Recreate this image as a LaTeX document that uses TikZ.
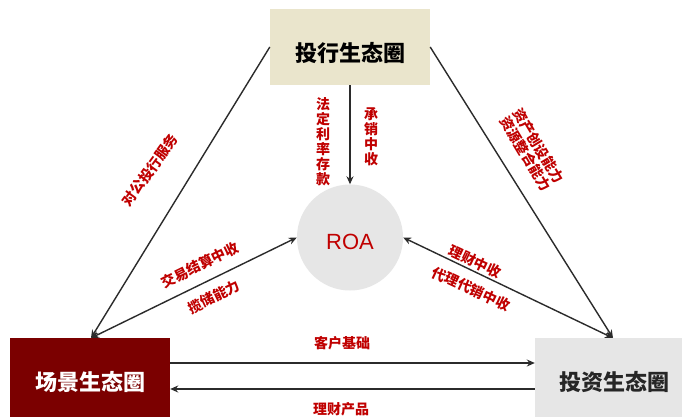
\documentclass[tikz,border=0pt]{standalone}
\usepackage{fontspec}
\setmainfont{Liberation Sans}
\newfontfamily\cjk{Noto Sans CJK SC}
\usetikzlibrary{arrows.meta}
\definecolor{beige}{HTML}{EAE5CC}
\definecolor{darkred}{HTML}{7B0000}
\definecolor{lgray}{HTML}{E6E6E6}
\definecolor{lblred}{HTML}{C00000}
\definecolor{linec}{HTML}{2B2B2B}
\tikzset{
  box/.style={draw=none, inner sep=0pt},
  boxtext/.style={font=\cjk\bfseries\fontsize{22}{24}\selectfont, inner sep=0pt},
  lbl/.style={font=\cjk\bfseries\fontsize{14}{15}\selectfont, text=lblred, inner sep=0pt, align=center},
  conn/.style={draw=linec, line width=1.4pt, -{Stealth[length=8pt,width=7pt]}},
  conn2/.style={draw=linec, line width=1.4pt, {Stealth[length=8pt,width=7pt]}-{Stealth[length=8pt,width=7pt]}},
}
\begin{document}
\begin{tikzpicture}[x=1pt,y=-1pt]
\useasboundingbox[fill=white] (0,0) rectangle (682,416);
% boxes
\node[box, fill=beige, minimum width=160pt, minimum height=76pt] (top) at (350,47) {};
\node[box, fill=darkred, minimum width=160pt, minimum height=88pt] (left) at (90,382) {};
\node[box, fill=lgray, minimum width=154pt, minimum height=88pt] (right) at (612,382) {};
\node[circle, fill=lgray, minimum size=106pt, inner sep=0pt] (roa) at (350,237.5) {};
% box texts
\node[boxtext, text=black] (toptxt) at (350,53) {投行生态圈};
\node[boxtext, text=white] (lefttxt) at (90,382) {场景生态圈};
\node[boxtext, text=black!85] (righttxt) at (614,382) {投资生态圈};
\node[font=\fontsize{22}{24}\selectfont, text=lblred, inner sep=0pt] (roatxt) at (350,242) {ROA};
% connectors
\coordinate (lefttip) at (91,338);
\coordinate (righttip) at (613,338);
\draw[conn] (top.west) -- (lefttip);
\draw[conn] (top.east) -- (righttip);
\draw[conn] (top.south) -- (roa.north);
\draw[conn2] (lefttip) -- (roa.west);
\draw[conn2] (righttip) -- (roa.east);
\draw[conn] (left.east |- 0,363) -- (right.west |- 0,363);
\draw[conn] (right.west |- 0,389) -- (left.east |- 0,389);
% labels
\node[lbl] (l1) at (323,142) {法\\定\\利\\率\\存\\款};
\node[lbl] (l2) at (371,137) {承\\销\\中\\收};
\node[lbl, rotate=54] (l3) at (150,170) {对公投行服务};
\node[lbl, rotate=-59] (l4) at (532,150) {资产创设能力\\资源整合能力};
\node[lbl, rotate=26] (l5) at (200,265) {交易结算中收};
\node[lbl, rotate=26] (l6) at (214,297) {揽储能力};
\node[lbl, rotate=-25] (l7) at (475,262) {理财中收};
\node[lbl, rotate=-25] (l8) at (471,289) {代理代销中收};
\node[lbl] (l9) at (342,343) {客户基础};
\node[lbl] (l10) at (341,409) {理财产品};
\end{tikzpicture}
\end{document}
